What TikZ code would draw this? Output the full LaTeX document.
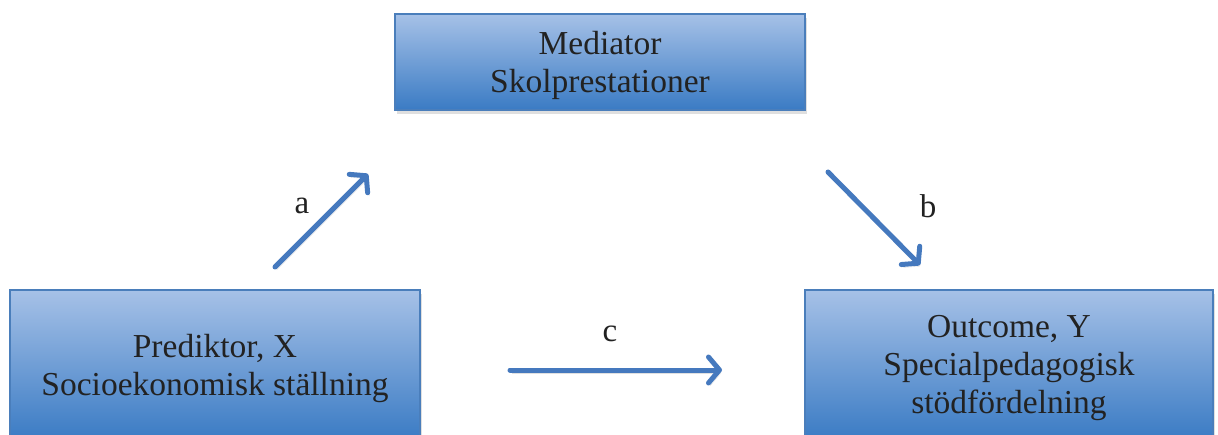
\documentclass[tikz,border=0pt]{standalone}
\usepackage{fontspec}
\setmainfont{Liberation Serif}
\usetikzlibrary{shadows,arrows.meta}
\definecolor{boxtop}{HTML}{A6C1E7}
\definecolor{boxbot}{HTML}{3A7BC4}
\definecolor{boxline}{HTML}{4A7EBB}
\definecolor{arr}{HTML}{4579BE}
\definecolor{txt}{HTML}{222222}
\tikzset{
  varbox/.style={rectangle, draw=boxline, line width=1.2pt, top color=boxtop, bottom color=boxbot,
    inner sep=0pt,
    drop shadow={opacity=0.25, shadow xshift=2pt, shadow yshift=-4pt}},
  boxtext/.style={align=center, inner sep=0pt, text=txt, font=\fontsize{33.5}{38}\selectfont},
  pathlabel/.style={text=txt, font=\fontsize{33}{38}\selectfont},
  effect/.style={draw=arr, line width=5pt, line cap=round, line join=round,
    -{Straight Barb[length=11pt,width=26pt,line cap=round,line join=round]},
    preaction={draw=black, opacity=0.12, transform canvas={shift={(1.5pt,-3pt)}}}}
}
\begin{document}
\begin{tikzpicture}[x=1pt,y=1pt]
\useasboundingbox (0,0) rectangle (1218,434);
\clip (0,0) rectangle (1218,434);
\fill[white] (0,0) rectangle (1218,434);
\node[varbox, minimum width=410pt, minimum height=96pt] (med) at (600,372) {};
\node[varbox, minimum width=410pt, minimum height=150pt] (pred) at (215,69) {};
\node[varbox, minimum width=408pt, minimum height=150pt] (out) at (1009,69) {};
\node[boxtext] (medt) at ([yshift=-3pt]med.center) {Mediator\\Skolprestationer};
\node[boxtext] (predt) at ([yshift=-3pt]pred.center) {Prediktor, X\\Socioekonomisk ställning};
\node[boxtext] (outt) at ([yshift=-3pt]out.center) {Outcome, Y\\Specialpedagogisk\\stödfördelning};
\coordinate (a1) at (275,167);
\coordinate (a2) at (368,260);
\coordinate (b1) at (828,262);
\coordinate (b2) at (920,169);
\coordinate (c1) at (510,64);
\coordinate (c2) at (722,64);
\draw[effect] (a1) -- (a2);
\draw[effect] (b1) -- (b2);
\draw[effect] (c1) -- (c2);
\node[pathlabel] (la) at (302,228) {a};
\node[pathlabel] (lb) at (928,228) {b};
\node[pathlabel] (lc) at (610,100) {c};
\end{tikzpicture}
\end{document}
